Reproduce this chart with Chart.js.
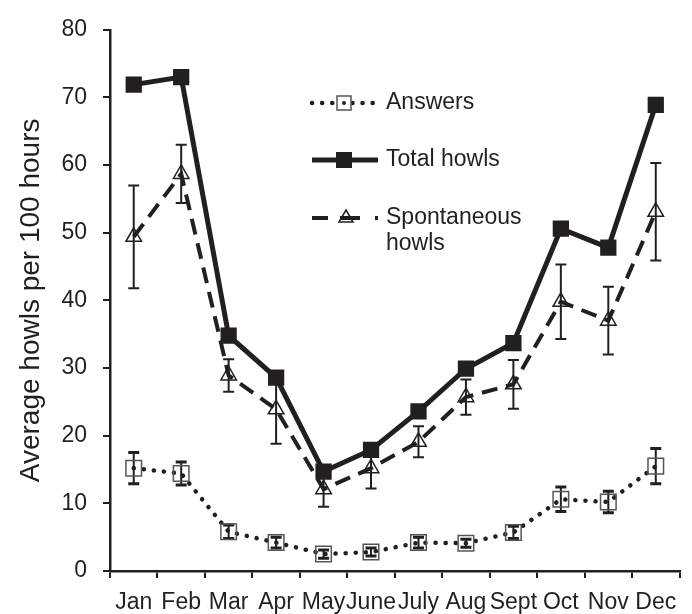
<!DOCTYPE html>
<html>
<head>
<meta charset="utf-8">
<script src="https://cdn.jsdelivr.net/npm/chart.js@4/dist/chart.umd.min.js"></script>
<style>
  html, body { margin: 0; padding: 0; background: #fff; }
  #wrap { width: 692px; height: 614px; }
</style>
</head>
<body>
<div id="wrap"><canvas id="c" width="692" height="614"></canvas></div>
<script>
// months on the x axis
const months = ['Jan', 'Feb', 'Mar', 'Apr', 'May', 'June', 'July', 'Aug', 'Sept', 'Oct', 'Nov', 'Dec'];

// averages per 100 hours
const totalHowls = [71.9, 73.0, 34.8, 28.6, 14.7, 17.9, 23.6, 29.9, 33.7, 50.6, 47.8, 68.9];
const spontaneous = [49.4, 58.7, 28.9, 23.9, 12.1, 15.2, 19.1, 25.7, 27.6, 39.8, 37.0, 53.1];
const spontErr = [7.6, 4.3, 2.4, 5.1, 2.6, 3.0, 2.3, 2.6, 3.6, 5.5, 5.0, 7.2];
const answers = [15.2, 14.4, 5.8, 4.2, 2.5, 2.8, 4.2, 4.1, 5.7, 10.6, 10.2, 15.5];
const answersErr = [2.3, 1.7, 1.0, 0.8, 0.6, 0.6, 0.8, 0.6, 0.9, 1.8, 1.6, 2.6];

const yTicks = [0, 10, 20, 30, 40, 50, 60, 70, 80];

const INK = '#231f20';
const FONT = "'Liberation Sans', Arial, Helvetica, sans-serif";

// error bars drawn under the markers, positioned through the scales
const errorBars = {
    id: 'errorBars',
    beforeDatasetsDraw(chart) {
        const ctx = chart.ctx;
        const y = chart.scales.y;
        ctx.save();
        ctx.strokeStyle = INK;
        chart.data.datasets.forEach((ds, i) => {
            if (!ds.errors) return;
            const meta = chart.getDatasetMeta(i);
            meta.data.forEach((pt, j) => {
                const v = ds.data[j], e = ds.errors[j];
                const top = y.getPixelForValue(v + e);
                const bot = y.getPixelForValue(v - e);
                ctx.lineWidth = 2;
                ctx.beginPath();
                ctx.moveTo(pt.x, top);
                ctx.lineTo(pt.x, bot);
                ctx.stroke();
                ctx.lineWidth = ds.capWidth || 2;
                ctx.beginPath();
                ctx.moveTo(pt.x - 5.5, top);
                ctx.lineTo(pt.x + 5.5, top);
                ctx.moveTo(pt.x - 5.5, bot);
                ctx.lineTo(pt.x + 5.5, bot);
                ctx.stroke();
            });
        });
        ctx.restore();
    }
};

// legend sits inside the plot, like in the figure
const insideLegend = {
    id: 'insideLegend',
    afterDraw(chart) {
        const ctx = chart.ctx;
        ctx.save();
        ctx.fillStyle = INK;
        ctx.strokeStyle = INK;
        ctx.font = '23px ' + FONT;
        ctx.textBaseline = 'middle';

        // Answers
        let ly = 103;
        ctx.lineWidth = 4.5;
        ctx.lineCap = 'round';
        ctx.setLineDash([0.1, 10]);
        ctx.beginPath(); ctx.moveTo(312, ly); ctx.lineTo(377, ly); ctx.stroke();
        ctx.setLineDash([]);
        ctx.lineCap = 'butt';
        ctx.fillStyle = '#fff';
        ctx.fillRect(337, ly - 7, 14, 14);
        ctx.lineWidth = 1.5;
        ctx.strokeStyle = '#555';
        ctx.strokeRect(337, ly - 7, 14, 14);
        ctx.fillStyle = INK;
        ctx.beginPath(); ctx.arc(344, ly, 2, 0, Math.PI * 2); ctx.fill();
        ctx.fillText('Answers', 386, ly);

        // Total howls
        ly = 160;
        ctx.strokeStyle = INK;
        ctx.lineWidth = 5;
        ctx.beginPath(); ctx.moveTo(312, ly); ctx.lineTo(378, ly); ctx.stroke();
        ctx.fillRect(336, ly - 8, 16, 16);
        ctx.fillText('Total howls', 386, ly);

        // Spontaneous howls
        ly = 218;
        ctx.lineWidth = 4;
        ctx.setLineDash([16, 12, 20, 15, 3]);
        ctx.beginPath(); ctx.moveTo(312, ly); ctx.lineTo(378, ly); ctx.stroke();
        ctx.setLineDash([]);
        ctx.lineWidth = 1.5;
        ctx.beginPath();
        ctx.moveTo(346, ly - 8);
        ctx.lineTo(353, ly + 4);
        ctx.lineTo(339, ly + 4);
        ctx.closePath();
        ctx.stroke();
        ctx.fillText('Spontaneous', 386, ly);
        ctx.fillText('howls', 386, ly + 26);
        ctx.restore();
    }
};

new Chart(document.getElementById('c'), {
    type: 'line',
    data: {
        labels: months,
        datasets: [
            {
                label: 'Total howls',
                data: totalHowls,
                order: 0,
                borderColor: INK,
                borderWidth: 5,
                pointStyle: 'rect',
                pointRadius: 11.5,
                pointBackgroundColor: INK,
                pointBorderColor: INK,
                pointBorderWidth: 0
            },
            {
                label: 'Spontaneous howls',
                data: spontaneous,
                errors: spontErr,
                order: 1,
                borderColor: INK,
                borderWidth: 4,
                borderDash: [16, 9],
                pointStyle: 'triangle',
                pointRadius: 9,
                pointBackgroundColor: 'rgba(0,0,0,0)',
                pointBorderColor: INK,
                pointBorderWidth: 1.5
            },
            {
                label: 'Answers',
                data: answers,
                errors: answersErr,
                capWidth: 3,
                order: 2,
                borderColor: INK,
                borderWidth: 4.5,
                borderDash: [0.1, 10],
                borderCapStyle: 'round',
                pointStyle: 'rect',
                pointRadius: 11,
                pointBackgroundColor: 'rgba(0,0,0,0)',
                pointBorderColor: '#555',
                pointBorderWidth: 1.5
            }
        ]
    },
    options: {
        responsive: false,
        animation: false,
        events: [],
        layout: { padding: { top: 22, right: 11, left: 0, bottom: 0 } },
        elements: { line: { tension: 0 } },
        plugins: {
            legend: { display: false },
            tooltip: { enabled: false }
        },
        scales: {
            x: {
                offset: true,
                grid: { offset: true, drawOnChartArea: false, tickLength: 7, color: INK, lineWidth: 2 },
                border: { color: INK, width: 2.5 },
                ticks: { color: INK, font: { family: FONT, size: 23 }, padding: 11, autoSkip: false, maxRotation: 0 },
                afterFit(scale) { scale.height = 43; }
            },
            y: {
                min: 0,
                max: 80,
                afterBuildTicks(scale) { scale.ticks = yTicks.map(v => ({ value: v })); },
                grid: { drawOnChartArea: false, tickLength: 7, color: INK, lineWidth: 2 },
                border: { color: INK, width: 2.5 },
                ticks: { color: INK, font: { family: FONT, size: 23 }, padding: 16 },
                title: {
                    display: true,
                    text: 'Average howls per 100 hours',
                    color: INK,
                    font: { family: FONT, size: 28 },
                    padding: { top: 14, bottom: 0 }
                },
                afterFit(scale) { scale.width = 110; }
            }
        }
    },
    plugins: [errorBars, insideLegend]
});
</script>
</body>
</html>
